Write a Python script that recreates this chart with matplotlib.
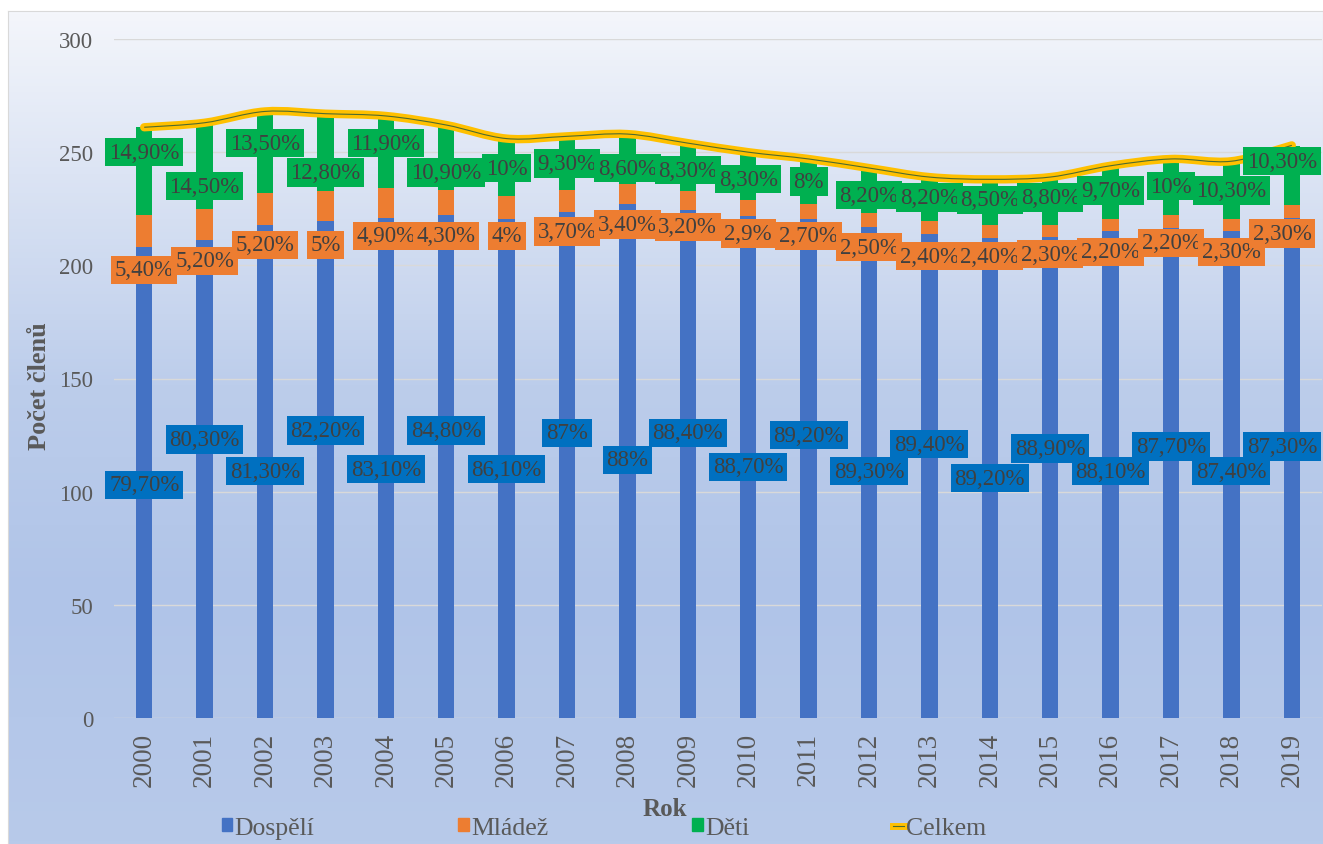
import numpy as np
import matplotlib.pyplot as plt
from matplotlib.path import Path
from matplotlib.patches import PathPatch, Patch
from matplotlib.lines import Line2D
from matplotlib.colors import LinearSegmentedColormap

plt.rcParams['font.family'] = ['Liberation Serif', 'DejaVu Serif']

# data
roky = ['2000', '2001', '2002', '2003', '2004', '2005', '2006', '2007', '2008', '2009',
        '2010', '2011', '2012', '2013', '2014', '2015', '2016', '2017', '2018', '2019']
celkem = [261, 263, 268, 267, 266, 262, 256, 257, 258, 254,
          250, 247, 243, 239, 238, 239, 244, 247, 246, 253]
dospeli_lbl = ['79,70%', '80,30%', '81,30%', '82,20%', '83,10%', '84,80%', '86,10%', '87%', '88%', '88,40%',
               '88,70%', '89,20%', '89,30%', '89,40%', '89,20%', '88,90%', '88,10%', '87,70%', '87,40%', '87,30%']
mladez_lbl = ['5,40%', '5,20%', '5,20%', '5%', '4,90%', '4,30%', '4%', '3,70%', '3,40%', '3,20%',
              '2,9%', '2,70%', '2,50%', '2,40%', '2,40%', '2,30%', '2,20%', '2,20%', '2,30%', '2,30%']
deti_lbl = ['14,90%', '14,50%', '13,50%', '12,80%', '11,90%', '10,90%', '10%', '9,30%', '8,60%', '8,30%',
            '8,30%', '8%', '8,20%', '8,20%', '8,50%', '8,80%', '9,70%', '10%', '10,30%', '10,30%']

# where the (manually moved) data labels sit, in axis units
pos_dospeli = [103, 123, 109, 127, 110, 127, 110, 126, 114, 126,
               111, 125, 109, 121, 106, 119, 109, 120, 109, 120]
pos_mladez = [198, 202, 209, 209, 213, 213, 213, 215, 218, 217,
              214, 213, 208, 204, 204, 205, 206, 210, 206, 214]
pos_deti = [250, 235, 254, 241, 254, 241, 243, 245, 243, 242,
            238, 237, 231, 230, 229, 230, 233, 235, 233, 246]


def pct(s):
    return float(s.replace(',', '.').rstrip('%'))


tot = np.array(celkem, dtype=float)
dospeli = tot * np.array([pct(s) for s in dospeli_lbl]) / 100
mladez = tot * np.array([pct(s) for s in mladez_lbl]) / 100
deti = tot * np.array([pct(s) for s in deti_lbl]) / 100

c_blue = '#4472C4'
c_orange = '#ED7D31'
c_green = '#00B050'
c_yellow = '#FFC000'
c_inner = '#4E6B2E'
txt = '#595959'

fig = plt.figure(figsize=(13.23, 8.45), dpi=100, facecolor='white')

# chart area with gradient
bg = fig.add_axes([8 / 1323, 0, 1 - 8 / 1323, (845 - 12) / 845], zorder=-5)
cmap = LinearSegmentedColormap.from_list('bg', [(0, '#F4F6FB'), (0.25, '#D5DFF2'), (0.45, '#BCCDEB'),
                                                (0.7, '#B0C4E8'), (1, '#B8CAEA')])
bg.imshow(np.linspace(0, 1, 256).reshape(-1, 1), cmap=cmap, aspect='auto', extent=[0, 1, 0, 1])
bg.set_xticks([])
bg.set_yticks([])
for s in bg.spines.values():
    s.set_color('#D9D9D9')

ax = fig.add_axes([114 / 1323, 126 / 845, 1208 / 1323, 679 / 845])
ax.set_facecolor('none')
x = np.arange(len(roky))
w = 0.27
ax.bar(x, dospeli, w, color=c_blue, zorder=2)
ax.bar(x, mladez, w, bottom=dospeli, color=c_orange, zorder=2)
ax.bar(x, deti, w, bottom=dospeli + mladez, color=c_green, zorder=2)

# smoothed total line
pts = np.column_stack([x, tot])
n = len(pts)
verts = [pts[0]]
codes = [Path.MOVETO]
for i in range(n - 1):
    p0 = pts[i - 1] if i > 0 else pts[i]
    p1 = pts[i]
    p2 = pts[i + 1]
    p3 = pts[i + 2] if i + 2 < n else pts[i + 1]
    verts += [p1 + (p2 - p0) / 6, p2 - (p3 - p1) / 6, p2]
    codes += [Path.CURVE4] * 3
path = Path(verts, codes)
ax.add_patch(PathPatch(path, fill=False, ec=c_yellow, lw=6, capstyle='round', zorder=3))
ax.add_patch(PathPatch(path, fill=False, ec=c_inner, lw=0.8, zorder=3))

# data labels (last column pulled in a little so it stays inside the picture)
for i in range(n):
    xl = x[i] - 0.16 if i == n - 1 else x[i]
    for lab, yy, col in ((dospeli_lbl[i], pos_dospeli[i], '#0070C0'),
                         (mladez_lbl[i], pos_mladez[i], c_orange),
                         (deti_lbl[i], pos_deti[i], c_green)):
        ax.text(xl, yy, lab, ha='center', va='center', fontsize=16.5, color='#404040', zorder=4,
                bbox=dict(boxstyle='square,pad=0.16', fc=col, ec='none'))

ax.set_xlim(-0.5, n - 0.5)
ax.set_ylim(0, 300)
ax.set_yticks(range(0, 301, 50))
ax.set_xticks(x)
ax.set_xticklabels(roky, rotation=90)
ax.tick_params(axis='y', length=0, pad=15, labelsize=16.5, labelcolor=txt)
ax.tick_params(axis='x', length=0, pad=10, labelsize=19.5, labelcolor=txt)
ax.grid(axis='y', color='#D9D9D9', lw=1, zorder=0)
ax.set_axisbelow(True)
for s in ax.spines.values():
    s.set_visible(False)

ax.set_ylabel('Počet členů', fontsize=19, fontweight='bold', color=txt)
ax.yaxis.set_label_coords(-0.052, 0.49)
ax.set_xlabel('Rok', fontsize=18, fontweight='bold', color=txt)
ax.xaxis.set_label_coords(0.456, -0.116)

handles = [Patch(color=c_blue), Patch(color=c_orange), Patch(color=c_green),
           (Line2D([], [], color=c_yellow, lw=5), Line2D([], [], color=c_inner, lw=0.8))]
fig.legend(handles, ['Dospělí', 'Mládež', 'Děti', 'Celkem'], loc='lower center',
           bbox_to_anchor=(604 / 1323, 0), ncol=4, frameon=False, fontsize=18.5,
           handlelength=0.4, handleheight=0.4, handletextpad=0.1, columnspacing=5.6,
           labelcolor=txt, borderpad=0.1, borderaxespad=0.1)

fig.savefig('out.png', dpi=100)
